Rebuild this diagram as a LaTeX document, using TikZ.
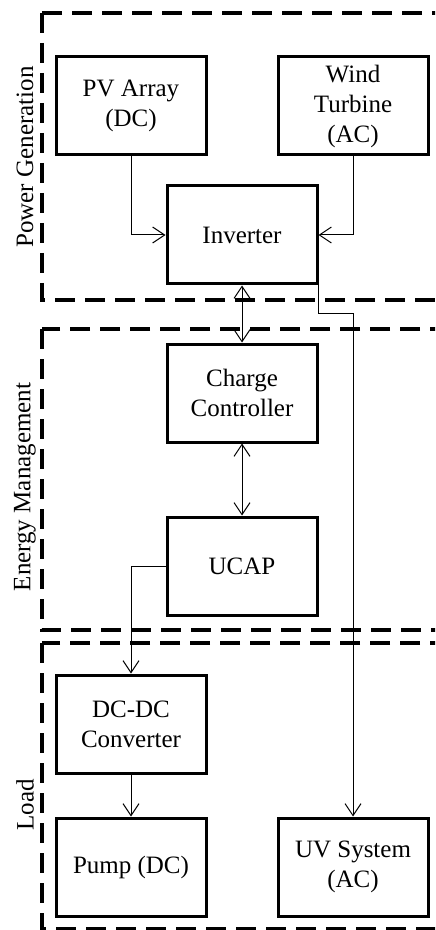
\documentclass[tikz,border=0pt]{standalone}
\usepackage{fontspec}
\setmainfont{Liberation Serif}
\usepackage{tikz}
\usetikzlibrary{arrows.meta}

\begin{document}
\begin{tikzpicture}[x=0.5pt,y=-0.5pt,>={Straight Barb[length=6pt,width=8pt]},
  font=\fontsize{12.5}{15}\selectfont,
  block/.style={draw,line width=1.5pt,minimum width=75pt,minimum height=49pt,align=center,inner sep=2pt},
  region/.style={draw,line width=1.6pt,dash pattern=on 10pt off 5pt},
  link/.style={line width=0.5pt}]
\clip (0,0) rectangle (435,930);

% dashed groups, open to the right
\draw[region] (42,13) rectangle (470,300);
\draw[region] (42,329) rectangle (470,630);
\draw[region] (42,643) rectangle (470,929);

\node[rotate=90] (PG) at (25,157) {Power Generation};
\node[rotate=90] (EM) at (25,487) {Energy Management};
\node[rotate=90] (LD) at (25,805) {Load};

\node[block] (PV) at (131,106) {PV Array\\(DC)};
\node[block] (WT) at (353,106) {Wind\\Turbine\\(AC)};
\node[block] (INV) at (242,235) {Inverter};
\node[block] (CC) at (242,393) {Charge\\Controller};
\node[block] (UC) at (242,566) {UCAP};
\node[block] (DC) at (131,724) {DC-DC\\Converter};
\node[block] (PUMP) at (131,867) {Pump (DC)};
\node[block] (UV) at (353,867) {UV System\\(AC)};

\draw[link,->] (PV.south) |- (INV.west);
\draw[link,->] (WT.south) |- (INV.east);
\draw[link,<->] (INV.south) -- (CC.north);
\draw[link,<->] (CC.south) -- (UC.north);
\draw[link,->] (UC.west) -| (DC.north);
\draw[link,->] (DC.south) -- (PUMP.north);
\draw[link,->] (INV.south east) -- ++(0,28) -| (UV.north);
\end{tikzpicture}
\end{document}
